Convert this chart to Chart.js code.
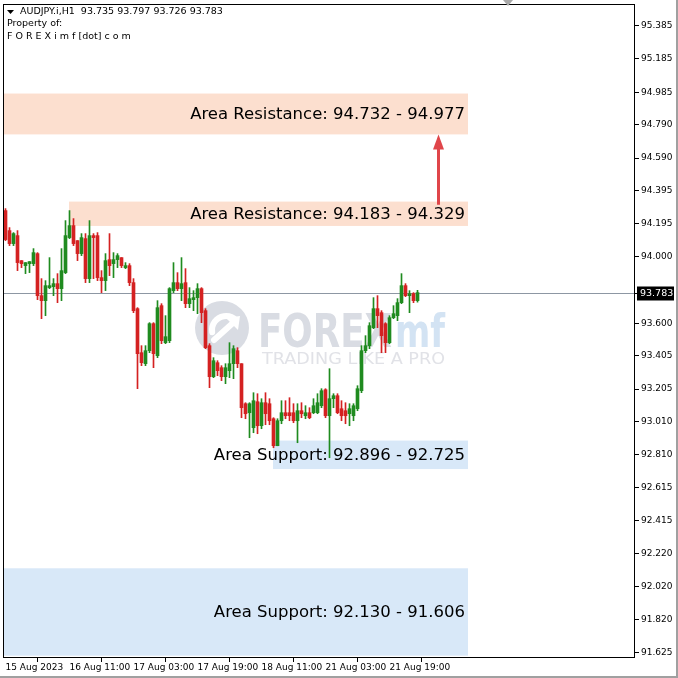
<!DOCTYPE html>
<html>
<head>
<meta charset="utf-8">
<script src="https://cdn.jsdelivr.net/npm/chart.js@4.4.0/dist/chart.umd.min.js"></script>
<style>
  html, body { margin: 0; padding: 0; background: #fff; }
  #wrap { width: 678px; height: 678px; }
</style>
</head>
<body>
<div id="wrap"><canvas id="chart" width="678" height="678"></canvas></div>
<script>
// AUDJPY.i H1, one entry per bar
const opens = [
  94.275, 94.155, 94.077, 94.125, 93.975, 93.945, 93.957, 93.957, 94.017, 93.765,
  93.735, 93.813, 93.819, 93.837, 93.807, 93.903, 94.113, 94.185, 94.095, 94.017,
  94.107, 93.867, 94.125, 94.125, 93.873, 93.855, 93.981, 93.957, 93.981, 93.993,
  93.933, 93.945, 93.843, 93.687, 93.423, 93.357, 93.435, 93.597, 93.405, 93.705,
  93.483, 93.495, 93.795, 93.843, 93.807, 93.843, 93.717, 93.741, 93.753, 93.807,
  93.675, 93.465, 93.279, 93.363, 93.333, 93.279, 93.315, 93.357, 93.435, 93.357,
  93.117, 93.063, 92.973, 93.129, 92.985, 93.123, 93.117, 93.027, 92.865, 93.015,
  93.063, 93.063, 93.063, 93.015, 93.075, 93.045, 93.063, 93.063, 93.063, 93.105,
  93.201, 93.045, 93.147, 93.165, 93.087, 93.075, 93.057, 93.045, 93.087, 93.195,
  93.435, 93.465, 93.573, 93.687, 93.663, 93.597, 93.483, 93.633, 93.645, 93.723,
  93.825, 93.765, 93.777, 93.735
];
const highs = [
  94.287, 94.173, 94.143, 94.155, 93.975, 93.963, 93.969, 94.047, 94.023, 93.867,
  93.855, 93.993, 93.867, 93.897, 94.047, 94.215, 94.275, 94.227, 94.095, 94.137,
  94.137, 94.215, 94.137, 94.143, 93.915, 94.017, 94.137, 94.023, 94.017, 93.993,
  93.963, 93.957, 93.867, 93.693, 93.465, 93.465, 93.603, 93.603, 93.735, 93.717,
  93.645, 93.813, 93.963, 93.903, 93.993, 93.927, 93.813, 93.795, 93.837, 93.813,
  93.687, 93.477, 93.393, 93.375, 93.345, 93.357, 93.483, 93.465, 93.453, 93.357,
  93.123, 93.123, 93.183, 93.177, 93.147, 93.183, 93.147, 93.033, 93.027, 93.135,
  93.135, 93.153, 93.117, 93.117, 93.123, 93.105, 93.093, 93.147, 93.177, 93.207,
  93.207, 93.327, 93.177, 93.177, 93.135, 93.123, 93.117, 93.117, 93.225, 93.465,
  93.525, 93.603, 93.753, 93.765, 93.675, 93.603, 93.645, 93.705, 93.747, 93.897,
  93.837, 93.795, 93.783, 93.797
];
const lows = [
  94.095, 94.065, 94.065, 93.915, 93.933, 93.897, 93.903, 93.945, 93.741, 93.627,
  93.645, 93.807, 93.765, 93.723, 93.735, 93.897, 94.107, 94.065, 93.975, 94.005,
  93.843, 93.843, 93.867, 93.855, 93.783, 93.795, 93.885, 93.873, 93.933, 93.933,
  93.927, 93.825, 93.663, 93.207, 93.345, 93.345, 93.423, 93.333, 93.393, 93.477,
  93.477, 93.483, 93.783, 93.795, 93.735, 93.693, 93.693, 93.675, 93.657, 93.603,
  93.447, 93.213, 93.273, 93.285, 93.255, 93.237, 93.273, 93.267, 93.333, 93.033,
  93.027, 92.913, 92.943, 92.937, 92.967, 92.991, 92.991, 92.853, 92.865, 92.997,
  93.027, 93.015, 93.003, 92.883, 93.033, 93.027, 93.027, 93.057, 93.057, 93.093,
  93.033, 92.793, 93.093, 93.057, 93.015, 92.997, 92.985, 93.015, 93.075, 93.183,
  93.423, 93.447, 93.567, 93.573, 93.423, 93.423, 93.477, 93.627, 93.615, 93.717,
  93.759, 93.663, 93.723, 93.726
];
const closes = [
  94.101, 94.077, 94.137, 93.963, 93.957, 93.963, 93.969, 94.023, 93.765, 93.735,
  93.825, 93.825, 93.837, 93.807, 93.915, 94.125, 94.185, 94.077, 94.017, 94.113,
  93.867, 94.125, 94.113, 93.873, 93.855, 93.975, 93.945, 93.981, 94.005, 93.945,
  93.945, 93.843, 93.675, 93.417, 93.363, 93.435, 93.597, 93.417, 93.693, 93.495,
  93.519, 93.807, 93.843, 93.807, 93.837, 93.717, 93.747, 93.753, 93.807, 93.663,
  93.453, 93.279, 93.375, 93.315, 93.279, 93.333, 93.357, 93.447, 93.357, 93.093,
  93.057, 93.117, 93.135, 92.985, 93.123, 93.057, 93.015, 92.865, 93.015, 93.063,
  93.045, 93.045, 93.015, 93.075, 93.057, 93.063, 93.033, 93.105, 93.123, 93.195,
  93.045, 93.147, 93.165, 93.063, 93.045, 93.045, 93.087, 93.105, 93.207, 93.435,
  93.465, 93.585, 93.687, 93.645, 93.525, 93.483, 93.633, 93.657, 93.723, 93.825,
  93.765, 93.777, 93.735, 93.783
];

const priceTicks = [
  95.385, 95.185, 94.985, 94.790, 94.590, 94.395, 94.195, 94.000, 93.600, 93.405,
  93.205, 93.010, 92.810, 92.615, 92.415, 92.220, 92.020, 91.820, 91.625
];
const timeTickBars = [0, 16, 32, 48, 64, 80, 96];
const timeLabels = ["15 Aug 2023", "16 Aug 11:00", "17 Aug 03:00", "17 Aug 19:00",
                    "18 Aug 11:00", "21 Aug 03:00", "21 Aug 19:00"];
const lastPrice = 93.783;

const zoneNames = ["Area Resistance", "Area Resistance", "Area Support", "Area Support"];
const zoneFirst = [94.732, 94.183, 92.896, 92.130];
const zoneSecond = [94.977, 94.329, 92.725, 91.606];
const zoneStartBar = [null, 15.875, 66.875, null];
const zoneEndBar = 115.625;
const arrowBar = 108;
const arrowFrom = 94.31;
const arrowTo = 94.732;

const UP = '#1f8b1f', DOWN = '#d42121';
const candleColors = closes.map((c, i) => c >= opens[i] ? UP : DOWN);

// pixel mapping helpers for the axes
const BAR_PX = 4;
const PX_PER_UNIT = 627 / (95.385 - 91.625);

const overlay = {
  id: 'overlay',
  beforeDraw(chart) {
    const { ctx, width, height } = chart;
    ctx.save();
    ctx.fillStyle = '#fff';
    ctx.fillRect(0, 0, width, height);
    ctx.restore();
  },
  beforeDatasetsDraw(chart) {
    const { ctx, chartArea: a, scales: { x, y } } = chart;
    ctx.save();
    // zones
    zoneFirst.forEach((p, k) => {
      const hi = Math.max(p, zoneSecond[k]), lo = Math.min(p, zoneSecond[k]);
      const x0 = zoneStartBar[k] === null ? a.left : x.getPixelForValue(zoneStartBar[k]);
      const x1 = x.getPixelForValue(zoneEndBar);
      const y0 = y.getPixelForValue(hi), y1 = y.getPixelForValue(lo);
      ctx.fillStyle = zoneNames[k].includes('Resistance') ? '#fcdfcf' : '#d8e8f8';
      ctx.fillRect(x0, y0, x1 - x0, y1 - y0);
    });

    // watermark
    const cx = 222, cy = 328;
    ctx.fillStyle = '#d9dce3';
    ctx.beginPath(); ctx.arc(cx, cy, 27, 0, Math.PI * 2); ctx.fill();
    ctx.strokeStyle = '#fff'; ctx.lineWidth = 6; ctx.lineCap = 'round';
    ctx.beginPath(); ctx.arc(cx + 4, cy + 2, 14, Math.PI * 0.95, Math.PI * 1.75); ctx.stroke();
    ctx.beginPath(); ctx.moveTo(cx - 8, cy + 12); ctx.lineTo(cx + 12, cy - 6); ctx.stroke();
    ctx.fillStyle = '#fff';
    ctx.beginPath(); ctx.moveTo(cx + 18, cy - 12); ctx.lineTo(cx + 4, cy - 10); ctx.lineTo(cx + 16, cy + 2); ctx.fill();

    const fitText = (txt, font, color, left, right, base) => {
      ctx.font = font;
      const w = ctx.measureText(txt).width;
      ctx.save();
      ctx.translate(left, base);
      ctx.scale((right - left) / w, 1);
      ctx.fillStyle = color;
      ctx.textBaseline = 'alphabetic';
      ctx.textAlign = 'left';
      ctx.fillText(txt, 0, 0);
      ctx.restore();
    };
    fitText('FOREX', 'bold 46px "DejaVu Sans"', '#d9dce3', 258, 392, 347);
    fitText('mf', 'bold 46px "DejaVu Sans"', '#d3e3f3', 395, 445, 347);
    fitText('TRADING LIKE A PRO', '16px "DejaVu Sans"', '#e1e2e7', 262, 445, 364);

    // bid line
    const py = Math.round(y.getPixelForValue(lastPrice)) + 0.5;
    ctx.strokeStyle = '#8d97a3'; ctx.lineWidth = 1; ctx.lineCap = 'butt';
    ctx.beginPath(); ctx.moveTo(a.left, py); ctx.lineTo(a.right, py); ctx.stroke();
    ctx.restore();
  },
  afterDatasetsDraw(chart) {
    const { ctx, chartArea: a, scales: { x, y } } = chart;
    ctx.save();
    // zone captions
    ctx.font = '16.5px "DejaVu Sans"';
    ctx.fillStyle = '#000';
    ctx.textAlign = 'right';
    ctx.textBaseline = 'middle';
    const capX = x.getPixelForValue(zoneEndBar) - 3;
    zoneFirst.forEach((p, k) => {
      const mid = y.getPixelForValue((p + zoneSecond[k]) / 2);
      ctx.fillText(zoneNames[k] + ': ' + p.toFixed(3) + ' - ' + zoneSecond[k].toFixed(3), capX, mid + 1);
    });

    // arrow
    const ax = Math.round(x.getPixelForValue(arrowBar)) + 0.5;
    const ay0 = y.getPixelForValue(arrowFrom), ay1 = y.getPixelForValue(arrowTo);
    ctx.strokeStyle = '#e0464a'; ctx.fillStyle = '#e0464a'; ctx.lineWidth = 3;
    ctx.beginPath(); ctx.moveTo(ax, ay0); ctx.lineTo(ax, ay1 + 12); ctx.stroke();
    ctx.beginPath(); ctx.moveTo(ax, ay1); ctx.lineTo(ax - 5.5, ay1 + 15); ctx.lineTo(ax + 5.5, ay1 + 15); ctx.closePath(); ctx.fill();

    // frame
    ctx.strokeStyle = '#000'; ctx.lineWidth = 1;
    ctx.strokeRect(a.left + 0.5, a.top + 0.5, a.right - a.left - 1, a.bottom - a.top - 1);

    // header
    ctx.textAlign = 'left'; ctx.textBaseline = 'middle';
    ctx.font = '9.5px "DejaVu Sans"';
    ctx.fillStyle = '#000';
    ctx.beginPath(); ctx.moveTo(7, 10); ctx.lineTo(14, 10); ctx.lineTo(10.5, 14); ctx.closePath(); ctx.fill();
    ctx.fillText('AUDJPY.i,H1  ' + [opens.at(-1), highs.at(-1), lows.at(-1), closes.at(-1)].map(v => v.toFixed(3)).join(' '), 20, 12);
    ctx.fillText('Property of:', 7, 24);
    ctx.fillText('F O R E X i m f [dot] c o m', 7, 37);

    // current price tag
    const py = Math.round(y.getPixelForValue(lastPrice)) + 0.5;
    ctx.fillStyle = '#000';
    ctx.fillRect(a.right + 2, py - 7, 37, 14);
    ctx.strokeStyle = '#000';
    ctx.beginPath(); ctx.moveTo(a.right, py); ctx.lineTo(a.right + 3, py); ctx.stroke();
    ctx.font = '9.5px "DejaVu Sans"';
    ctx.fillStyle = '#fff';
    ctx.fillText(lastPrice.toFixed(3), a.right + 5, py + 0.5);

    // shift marker and window edge
    ctx.fillStyle = '#a9a9a9';
    ctx.beginPath(); ctx.moveTo(503, 0); ctx.lineTo(513, 0); ctx.lineTo(508, 6); ctx.closePath(); ctx.fill();
    ctx.fillStyle = '#a0a0a0';
    ctx.fillRect(676, 0, 2, 678);
    ctx.fillRect(0, 676, 678, 2);
    ctx.restore();
  }
};

const bodyData = opens.map((o, i) => ({ x: i, y: [Math.min(o, closes[i]), Math.max(o, closes[i])] }));
const wickData = highs.map((h, i) => ({ x: i, y: [lows[i], h] }));

const xMin = -0.625;
const xMax = xMin + (635 - 3) / BAR_PX;
const yMax = 95.385 + 21.5 / PX_PER_UNIT;
const yMin = 91.625 - 5.5 / PX_PER_UNIT;

new Chart(document.getElementById('chart'), {
  type: 'bar',
  data: {
    datasets: [
      {
        label: 'body',
        data: bodyData,
        backgroundColor: candleColors,
        barThickness: 3,
        minBarLength: 1,
        grouped: false,
        borderWidth: 0,
        borderSkipped: false
      },
      {
        label: 'wick',
        data: wickData,
        backgroundColor: candleColors,
        barThickness: 1,
        minBarLength: 1,
        grouped: false,
        borderWidth: 0,
        borderSkipped: false
      }
    ]
  },
  options: {
    responsive: false,
    animation: false,
    devicePixelRatio: 1,
    layout: { padding: { left: 3, top: 4, right: 0, bottom: 0 } },
    plugins: { legend: { display: false }, tooltip: { enabled: false }, title: { display: false } },
    scales: {
      x: {
        type: 'linear',
        position: 'bottom',
        min: xMin,
        max: xMax,
        offset: false,
        afterBuildTicks: s => { s.ticks = timeTickBars.map(v => ({ value: v })); },
        afterFit: s => { s.height = 678 - 658; s.paddingLeft = 0; s.paddingRight = 0; },
        border: { display: false },
        grid: { drawOnChartArea: false, drawTicks: true, tickLength: 4, color: '#000' },
        ticks: {
          autoSkip: false,
          maxRotation: 0,
          align: 'start',
          padding: 0,
          color: '#000',
          font: { family: 'DejaVu Sans', size: 9 },
          callback: v => timeLabels[timeTickBars.indexOf(v)]
        }
      },
      y: {
        type: 'linear',
        position: 'right',
        min: yMin,
        max: yMax,
        afterBuildTicks: s => { s.ticks = priceTicks.map(v => ({ value: v })); },
        afterFit: s => { s.width = 678 - 635; s.paddingTop = 0; s.paddingBottom = 0; },
        border: { display: false },
        grid: { drawOnChartArea: false, drawTicks: true, tickLength: 4, color: '#000' },
        ticks: {
          autoSkip: false,
          padding: 2,
          color: '#000',
          font: { family: 'DejaVu Sans', size: 9 },
          callback: v => v.toFixed(3)
        }
      }
    }
  },
  plugins: [overlay]
});
</script>
</body>
</html>
